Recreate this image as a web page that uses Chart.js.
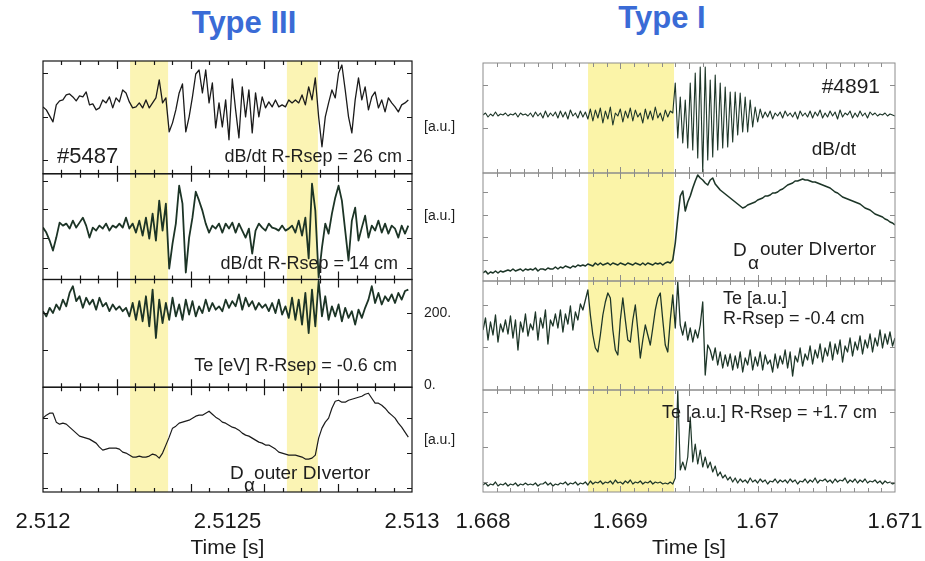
<!DOCTYPE html>
<html>
<head>
<meta charset="utf-8">
<script src="https://cdn.jsdelivr.net/npm/chart.js@4.4.0/dist/chart.umd.min.js"></script>
<style>
  body { margin: 0; background: #fff; width: 925px; height: 561px; position: relative; overflow: hidden; }
  canvas { position: absolute; top: 0; }
  #left { left: -20px; }
  #right { left: 420px; }
  .ttl { position: absolute; transform: translateX(-50%); font: bold 31px "Liberation Sans", Arial, sans-serif; color: #3a6bd6; white-space: nowrap; }
</style>
</head>
<body>
<div class="ttl" style="left:244px;top:5px">Type III</div>
<div class="ttl" style="left:662px;top:0px">Type I</div>
<canvas id="left" width="482" height="561"></canvas>
<canvas id="right" width="525" height="561"></canvas>
<script>
// time axes
const LEFT_RANGE = [2.512, 2.513];
const LEFT_SAMPLES = [2.512, 2.51299];
const LEFT_TICKS = [2.512, 2.5125, 2.513];
const LEFT_TICK_LABELS = ['2.512', '2.5125', '2.513'];
const LEFT_BANDS = [[2.512236, 2.512339], [2.512661, 2.512745]];

const RIGHT_RANGE = [1.668, 1.671];
const RIGHT_SAMPLES = [1.668, 1.671];
const RIGHT_TICKS = [1.668, 1.669, 1.67, 1.671];
const RIGHT_TICK_LABELS = ['1.668', '1.669', '1.67', '1.671'];
const RIGHT_BANDS = [[1.668765, 1.669391]];

// Type III (#5487)
const T3_DBDT_26 = [
  67,64,58,52,69,73,74,79,80,77, 73,78,77,82,69,70,64,66,74,71,
  77,66,76,72,84,81,72,66,67,71, 66,74,66,71,76,94,71,76,42,51,
  64,81,90,42,57,77,100,104,81,104, 71,91,46,71,47,74,34,95,64,36,
  87,57,84,41,81,57,77,66,72,67, 74,67,69,67,74,71,74,71,79,69,
  87,74,96,57,27,57,71,84,76,101, 109,84,57,41,74,96,74,87,64,77,
  82,66,74,62,76,71,67,62,69,71, 74
];
const T3_DBDT_14 = [
  52,47,39,29,42,57,54,56,51,59, 52,57,62,54,42,52,49,54,51,56,
  49,54,52,56,52,62,51,56,47,59, 44,62,41,66,39,79,49,76,11,36,
  56,94,76,7,42,62,88,79,69,56, 47,54,51,56,47,56,51,57,47,56,
  49,42,51,26,49,56,52,49,56,52, 51,49,54,49,51,54,47,59,44,62,
  21,96,69,2,32,56,46,66,82,94, 79,49,19,59,72,39,52,64,42,54,
  49,59,47,56,46,54,51,42,54,46, 54
];
const T3_TE = [
  204,190,213,199,222,208,235,217,253,271, 231,244,213,240,222,235,208,240,217,226,
  204,222,208,217,204,213,190,226,181,231, 177,244,163,262,132,235,172,226,181,240,
  190,222,181,235,195,231,190,217,199,235, 204,226,208,217,204,235,213,231,217,249,
  208,240,217,231,208,226,213,222,204,226, 199,235,195,217,186,240,181,235,168,253,
  145,262,163,285,190,244,181,217,190,222, 177,213,186,204,168,208,186,213,235,271,
  226,253,222,244,231,249,226,253,235,258, 262
];
const T3_DALPHA = [
  74,77,79,79,70,68,69,68,65,62, 59,56,55,54,53,51,49,45,42,43,
  44,44,44,43,40,39,37,35,35,36, 35,35,36,38,37,34,39,47,55,64,
  66,69,70,71,72,74,76,77,77,79, 81,78,75,73,70,69,67,65,64,62,
  59,57,56,54,52,50,49,47,47,45, 43,40,39,38,37,37,37,36,35,33,
  33,34,37,54,64,70,74,84,91,92, 90,90,92,93,94,95,96,98,99,94,
  89,89,87,84,80,77,74,69,65,60, 55
];

// Type I (#4891)
const T1_DBDT = [
  58,60,56,59,57,61,57,59,58,60, 57,59,58,60,56,60,58,59,57,60,
  56,61,57,60,55,62,56,60,57,61, 55,62,56,61,54,63,57,60,55,62,
  56,61,54,64,52,63,55,65,50,62, 54,66,48,60,57,64,51,62,55,65,
  52,63,56,60,50,64,54,62,53,66, 55,60,52,63,56,62,60,90,35,76,
  30,73,25,90,23,100,15,106,1,106, 13,93,16,98,23,90,25,86,26,81,
  31,81,38,80,41,76,41,73,46,66, 51,64,55,61,56,62,54,60,57,61,
  55,62,57,60,56,61,54,62,57,60, 56,62,55,61,57,63,55,60,56,62,
  57,61,54,63,56,60,58,62,55,60, 56,62,57,60,55,61,58,60,57,59,
  58,60,57,59,58,57
];
const T1_DALPHA = [
  8,10,7,9,8,10,8,10,9,10, 11,10,12,10,11,12,10,12,11,12,
  11,13,10,12,12,11,13,12,12,14, 12,14,13,15,14,13,15,14,16,15,
  16,15,17,16,15,18,16,18,16,17, 18,16,18,17,16,18,17,16,18,17,
  16,18,17,16,18,16,18,17,16,18, 17,18,16,18,19,18,21,38,63,85,
  90,70,79,85,93,100,106,103,101,98, 96,101,103,97,94,91,89,87,85,83,
  81,79,77,75,73,74,76,77,78,79, 81,82,83,85,85,86,88,88,89,91,
  92,94,96,97,98,100,100,101,102,101, 101,100,99,99,98,97,96,95,94,93,
  91,89,88,86,84,83,82,81,80,79, 78,77,75,73,72,71,69,67,66,65,
  64,62,61,59,58,56
];
const T1_TE_IN = [
  60,72,50,68,55,75,48,66,58,70, 56,74,52,70,40,68,58,76,54,66,
  60,78,50,72,62,80,46,70,64,76, 62,80,58,76,66,84,60,78,70,86,
  80,90,100,75,55,42,38,55,75,88, 97,92,60,40,35,70,92,70,50,48,
  70,85,60,32,50,65,55,45,62,80, 92,97,70,45,38,70,95,62,108,65,
  55,68,50,62,48,60,52,65,88,15, 45,40,30,42,25,38,22,35,24,36,
  20,34,22,38,18,32,25,40,20,33, 24,38,20,35,26,30,18,36,22,34,
  26,40,22,38,14,34,28,42,24,36, 30,44,26,40,32,46,28,42,34,48,
  30,46,36,50,28,44,38,52,34,48, 40,54,36,50,42,56,38,52,44,60,
  42,56,46,58,44,52
];
const T1_TE_OUT = [
  7,9,6,8,7,10,6,8,7,9, 6,8,7,9,6,8,7,9,7,8,
  7,9,6,8,8,10,7,9,6,8, 7,9,8,10,7,9,8,10,7,9,
  8,10,7,11,8,10,9,11,8,10, 9,11,8,12,9,10,8,11,9,12,
  8,10,9,11,8,10,9,11,8,10, 9,10,8,9,8,10,8,14,102,22,
  30,22,35,75,30,48,28,42,25,35, 24,30,20,26,16,20,14,17,12,15,
  10,14,9,13,10,12,9,14,10,12, 9,13,10,12,8,11,10,13,9,12,
  10,12,9,13,10,12,8,11,10,13, 9,12,10,14,9,12,11,13,10,12,
  9,13,10,12,11,14,9,12,10,13, 9,12,10,13,9,11,10,12,9,11,
  8,11,9,10,8,9
];

Chart.defaults.font.family = '"Liberation Sans", Arial, sans-serif';

function series(vals, span) {
  const dt = (span[1] - span[0]) / (vals.length - 1);
  return vals.map((v, i) => ({ x: span[0] + i * dt, y: v }));
}

function makeDecor(cfg) {
  return {
    id: 'decor',
    beforeDatasetsDraw(chart) {
      const { ctx, chartArea: a, scales } = chart;
      ctx.save();
      ctx.fillStyle = cfg.bandColor;
      cfg.bands.forEach(([t0, t1]) => {
        const x0 = scales.x.getPixelForValue(t0);
        const x1 = scales.x.getPixelForValue(t1);
        ctx.fillRect(x0, a.top, x1 - x0, a.bottom - a.top);
      });
      ctx.restore();
    },
    afterDatasetsDraw(chart) {
      const { ctx, chartArea: a, scales } = chart;
      const x = scales.x;
      ctx.save();
      ctx.strokeStyle = cfg.frameColor;
      ctx.lineWidth = cfg.frameWidth;
      const n = Math.round((x.max - x.min) / cfg.minorStep);
      cfg.panels.forEach((p, k) => {
        const s = scales['a' + k];
        ctx.strokeRect(a.left, s.top, a.right - a.left, s.bottom - s.top);
        ctx.beginPath();
        for (let i = 1; i < n; i++) {
          const px = Math.round(x.getPixelForValue(x.min + i * cfg.minorStep)) + 0.5;
          const len = i % cfg.majorEvery === 0 ? cfg.majorLen : cfg.minorLen;
          ctx.moveTo(px, s.top); ctx.lineTo(px, s.top + len);
          ctx.moveTo(px, s.bottom); ctx.lineTo(px, s.bottom - len);
        }
        p.yTicks.forEach(v => {
          const py = Math.round(s.getPixelForValue(v)) + 0.5;
          ctx.moveTo(a.left, py); ctx.lineTo(a.left + cfg.minorLen + 1, py);
          ctx.moveTo(a.right, py); ctx.lineTo(a.right - cfg.minorLen - 1, py);
        });
        ctx.stroke();
      });
      ctx.fillStyle = '#1e1e1e';
      ctx.textBaseline = 'middle';
      cfg.texts.forEach(t => {
        const s = scales['a' + t.p];
        ctx.font = t.size + 'px "Liberation Sans", Arial, sans-serif';
        ctx.textAlign = t.align || 'left';
        ctx.fillText(t.s, x.getPixelForValue(t.t), s.getPixelForValue(t.v));
      });
      ctx.font = '14px "Liberation Sans", Arial, sans-serif';
      ctx.textAlign = 'left';
      cfg.side.forEach(t => {
        const s = scales['a' + t.p];
        ctx.fillText(t.s, a.right + 12, s.getPixelForValue(t.v));
      });
      ctx.restore();
    }
  };
}

function makeChart(id, cfg) {
  const scales = {
    x: {
      type: 'linear', min: cfg.range[0], max: cfg.range[1],
      afterBuildTicks: s => { s.ticks = cfg.ticks.map(v => ({ value: v })); },
      afterFit: s => { s.height = cfg.axisHeight; },
      grid: { display: false, drawTicks: false },
      border: { display: false },
      ticks: {
        autoSkip: false, maxRotation: 0, padding: 17, color: '#1a1a1a',
        font: { size: 22 }, callback: (v, i) => cfg.tickLabels[i]
      },
      title: {
        display: true, text: 'Time [s]', color: '#1a1a1a',
        font: { size: 21 }, padding: { top: 0, bottom: 0 }
      }
    }
  };
  // stacked left axes are laid out bottom-up in insertion order, so add the lowest panel first
  for (let k = cfg.panels.length - 1; k >= 0; k--) {
    const p = cfg.panels[k];
    scales['a' + k] = {
      type: 'linear', axis: 'y', position: 'left', stack: 'panel', stackWeight: p.weight,
      min: p.min, max: p.max,
      grid: { display: false, drawTicks: false },
      border: { display: false },
      ticks: { display: false }
    };
  }
  return new Chart(document.getElementById(id), {
    type: 'line',
    data: {
      datasets: cfg.panels.map((p, k) => ({
        data: series(p.values, cfg.samples),
        yAxisID: 'a' + k,
        borderColor: p.color,
        borderWidth: p.width,
        pointRadius: 0,
        tension: 0,
        borderJoinStyle: 'round'
      }))
    },
    options: {
      responsive: false,
      animation: false,
      events: [],
      layout: { padding: cfg.padding },
      plugins: { legend: { display: false }, tooltip: { enabled: false } },
      scales
    },
    plugins: [makeDecor(cfg)]
  });
}

makeChart('left', {
  range: LEFT_RANGE, samples: LEFT_SAMPLES, ticks: LEFT_TICKS, tickLabels: LEFT_TICK_LABELS,
  bands: LEFT_BANDS, bandColor: '#fbf4b4',
  padding: { left: 63, right: 50, top: 61, bottom: 0 }, axisHeight: 69,
  frameColor: '#151515', frameWidth: 1.2,
  minorStep: 0.00005, majorEvery: 4, minorLen: 4, majorLen: 8,
  panels: [
    { values: T3_DBDT_26, weight: 113, min: 0, max: 113, color: '#1b1b1b', width: 1.3, yTicks: [14, 57, 101] },
    { values: T3_DBDT_14, weight: 106, min: 0, max: 106, color: '#1c3426', width: 1.8, yTicks: [12, 42, 71, 99] },
    { values: T3_TE, weight: 108, min: 0, max: 289, color: '#1c3426', width: 1.8, yTicks: [100, 200] },
    { values: T3_DALPHA, weight: 105, min: 0, max: 105, color: '#1b1b1b', width: 1.2, yTicks: [4, 39, 74] }
  ],
  texts: [
    { p: 0, t: 2.512038, v: 17, s: '#5487', size: 22 },
    { p: 0, t: 2.512973, v: 17, s: 'dB/dt R-Rsep = 26 cm', size: 18, align: 'right' },
    { p: 1, t: 2.512962, v: 15, s: 'dB/dt R-Rsep = 14 cm', size: 18, align: 'right' },
    { p: 2, t: 2.512959, v: 56, s: 'Te [eV] R-Rsep = -0.6 cm', size: 18, align: 'right' },
    { p: 3, t: 2.512507, v: 18, s: 'D', size: 19 },
    { p: 3, t: 2.512545, v: 6, s: 'α', size: 19 },
    { p: 3, t: 2.512572, v: 18, s: 'outer DIvertor', size: 19 }
  ],
  side: [
    { p: 0, v: 47, s: '[a.u.]' },
    { p: 1, v: 63, s: '[a.u.]' },
    { p: 2, v: 200, s: '200.' },
    { p: 2, v: 5, s: '0.' },
    { p: 3, v: 52, s: '[a.u.]' }
  ]
});

makeChart('right', {
  range: RIGHT_RANGE, samples: RIGHT_SAMPLES, ticks: RIGHT_TICKS, tickLabels: RIGHT_TICK_LABELS,
  bands: RIGHT_BANDS, bandColor: '#fbf4a8',
  padding: { left: 63, right: 50, top: 63, bottom: 0 }, axisHeight: 69,
  frameColor: '#8c8c8c', frameWidth: 1,
  minorStep: 0.0001, majorEvery: 5, minorLen: 4, majorLen: 6,
  panels: [
    { values: T1_DBDT, weight: 110, min: 0, max: 110, color: '#1d3628', width: 1.1, yTicks: [45, 88] },
    { values: T1_DALPHA, weight: 108, min: 0, max: 108, color: '#1d3628', width: 1.6, yTicks: [21, 44, 66, 89] },
    { values: T1_TE_IN, weight: 109, min: 0, max: 109, color: '#1d3628', width: 1.3, yTicks: [43, 85] },
    { values: T1_TE_OUT, weight: 102, min: 0, max: 102, color: '#1d3628', width: 1.2, yTicks: [10, 45, 80] }
  ],
  texts: [
    { p: 0, t: 1.670891, v: 86, s: '#4891', size: 21, align: 'right' },
    { p: 0, t: 1.670716, v: 23, s: 'dB/dt', size: 19, align: 'right' },
    { p: 1, t: 1.669820, v: 30, s: 'D', size: 19 },
    { p: 1, t: 1.669930, v: 17, s: 'α', size: 19 },
    { p: 1, t: 1.670017, v: 31, s: 'outer DIvertor', size: 19 },
    { p: 2, t: 1.669748, v: 91, s: 'Te [a.u.]', size: 18 },
    { p: 2, t: 1.669748, v: 71, s: 'R-Rsep = -0.4 cm', size: 18 },
    { p: 3, t: 1.669303, v: 79, s: 'Te [a.u.] R-Rsep = +1.7 cm', size: 18 }
  ],
  side: []
});
</script>
</body>
</html>
